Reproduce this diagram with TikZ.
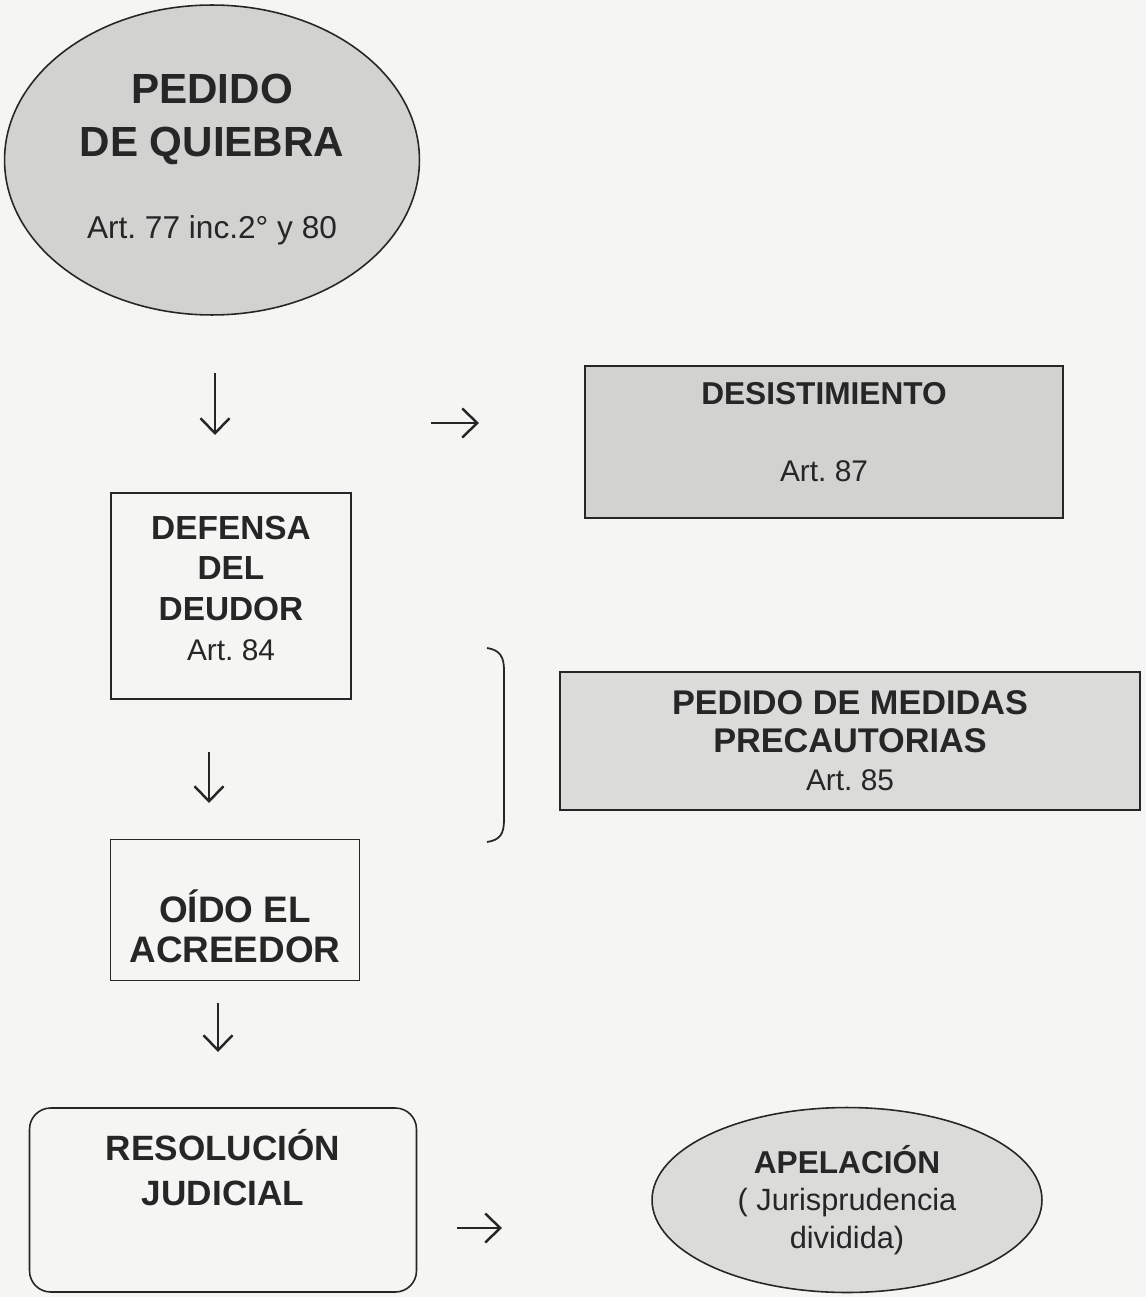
\documentclass[tikz,border=0pt]{standalone}
\usepackage{fontspec}
\setmainfont{Liberation Sans}
\usepackage{xcolor}
\usetikzlibrary{shapes.geometric, arrows.meta, positioning}
\definecolor{PaperWhite}{HTML}{F5F5F3}
\definecolor{ScanGray}{HTML}{D2D2D0}
\definecolor{PaleGray}{HTML}{DBDBD9}
\definecolor{InkGray}{HTML}{262626}
\frenchspacing

\begin{document}
\begin{tikzpicture}[x=0.02cm, y=-0.02cm,
    box/.style={rectangle, draw=InkGray, line width=0.9pt, align=center,
                text=InkGray, inner sep=0pt},
    oval/.style={ellipse, draw=InkGray, line width=0.9pt, align=center,
                 text=InkGray, inner sep=0pt},
    flow/.style={-{Straight Barb[length=0.3cm, width=0.58cm]}, line width=1.4pt, draw=InkGray}
]
    \fill[PaperWhite] (0,0) rectangle (1146,1297);
    \useasboundingbox (0,0) rectangle (1146,1297);

    % Start
    \node[oval, fill=ScanGray, minimum width=8.3cm, minimum height=6.2cm,
          font=\bfseries\fontsize{24}{30}\selectfont] (pedido) at (212,160) {
        PEDIDO\\DE QUIEBRA\\[0.59cm]
        \mdseries\fontsize{18}{22}\selectfont Art. 77 inc.2° y 80
    };

    % Side branch
    \node[box, fill=ScanGray, minimum width=9.56cm, minimum height=3.04cm,
          font=\bfseries\fontsize{18}{22}\selectfont] (desist) at (824,442) {
        DESISTIMIENTO\\[0.77cm]
        \mdseries\fontsize{17}{20}\selectfont Art. 87\\[-0.38cm]\mbox{}
    };

    % Main column
    \node[box, minimum width=4.8cm, minimum height=4.12cm,
          font=\bfseries\fontsize{19}{23}\selectfont] (defensa) at (231,596) {
        DEFENSA\\DEL\\DEUDOR\\
        \mdseries\fontsize{17}{20}\selectfont Art. 84\\[-0.5cm]\mbox{}
    };

    \node[box, fill=PaleGray, minimum width=11.6cm, minimum height=2.76cm,
          font=\bfseries\fontsize{19.5}{21.6}\selectfont] (medidas) at (850,741) {
        PEDIDO DE MEDIDAS\\PRECAUTORIAS\\
        \mdseries\fontsize{17}{20}\selectfont Art. 85
    };

    \node[box, minimum width=4.98cm, minimum height=2.82cm,
          font=\bfseries\fontsize{21}{23}\selectfont] (oido) at (235,910) {
        \mbox{}\\[0.5cm]OÍDO EL\\ACREEDOR
    };

    \node[box, rounded corners=12pt, minimum width=7.74cm, minimum height=3.68cm,
          font=\bfseries\fontsize{20}{25.6}\selectfont] (resol) at (223,1200) {
        RESOLUCIÓN\\JUDICIAL\\[0.4cm]\mbox{}
    };

    \node[oval, fill=PaleGray, minimum width=7.8cm, minimum height=3.7cm,
          font=\bfseries\fontsize{18}{21.5}\selectfont] (apel) at (847,1200) {
        APELACIÓN\\
        \mdseries\fontsize{17.5}{21.5}\selectfont ( Jurisprudencia\\
        \mdseries\fontsize{17.5}{21.5}\selectfont dividida)
    };

    % Arrows
    \coordinate (d1a) at (215,373);
    \coordinate (d1b) at (215,435);
    \coordinate (r1a) at (431,423);
    \coordinate (r1b) at (479,423);
    \coordinate (d2a) at (209,752);
    \coordinate (d2b) at (209,803);
    \coordinate (d3a) at (218,1003);
    \coordinate (d3b) at (218,1052);
    \coordinate (r2a) at (457,1228);
    \coordinate (r2b) at (502,1228);
    \draw[flow] (d1a) -- (d1b);
    \draw[flow] (r1a) -- (r1b);
    \draw[flow] (d2a) -- (d2b);
    \draw[flow] (d3a) -- (d3b);
    \draw[flow] (r2a) -- (r2b);

    % Bracket
    \draw[InkGray, line width=1pt] (487,648) .. controls (500,650) and (504,657) .. (504,670)
        -- (504,820) .. controls (504,834) and (500,840) .. (487,842);
\end{tikzpicture}
\end{document}
